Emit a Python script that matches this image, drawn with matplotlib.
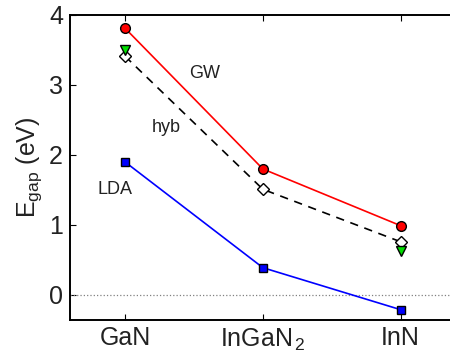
import numpy as np
import matplotlib
matplotlib.use("Agg")
import matplotlib.pyplot as plt

plt.rcParams['font.family'] = ['Liberation Sans', 'DejaVu Sans']
plt.rcParams['mathtext.fontset'] = 'custom'
plt.rcParams['mathtext.rm'] = 'Liberation Sans'
plt.rcParams['mathtext.it'] = 'Liberation Sans'

# Data
materials = ["GaN", r"InGaN$_{\,2}$", "InN"]
gw = [3.81, 1.80, 0.99]
hyb = [3.41, 1.51, 0.76]
expt_x = [1, 3]
expt = [3.50, 0.63]
lda = [1.90, 0.39, -0.21]

x = np.arange(1, len(materials) + 1)

fig = plt.figure(figsize=(4.5, 3.6), dpi=100)
ax = fig.add_axes([70/450, 40.5/360, 385.8/450, 304.5/360])

ax.axhline(0, color='gray', linestyle=':', linewidth=0.9)

ax.plot(x, gw, '-o', color='red', mfc='red', mec='black', ms=7, lw=1.2, zorder=3)
ax.plot(x, hyb, '--D', color='black', mfc='white', mec='black', ms=6, lw=1.2,
        dashes=(5, 4), zorder=3)
ax.plot(expt_x, expt, 'v', mfc='#00dd00', mec='black', ms=7, zorder=4)
ax.plot(x, lda, '-s', color='blue', mfc='blue', mec='black', ms=6, lw=1.2, zorder=3)

ax.text(1.58, 3.17, "GW", fontsize=13, ha='center', va='center', color='#222222')
ax.text(1.30, 2.39, "hyb", fontsize=13, ha='center', va='center', color='#222222')
ax.text(0.93, 1.50, "LDA", fontsize=13, ha='center', va='center', color='#222222')

ax.set_xlim(0.6, 3.4)
ax.set_ylim(-0.35, 4)
ax.set_xticks(x)
ax.set_xticklabels(materials, fontsize=18, color='#222222')
ax.set_yticks([0, 1, 2, 3, 4])
ax.tick_params(axis='y', labelsize=18, labelcolor='#222222')
ax.tick_params(direction='in', top=True, right=True, length=4, width=0.8, pad=5)
ax.set_ylabel(r"E$_{\rm gap}$ (eV)", fontsize=18, labelpad=4, color='#222222')
for s in ax.spines.values():
    s.set_linewidth(1.4)

fig.savefig("out.png", dpi=100)
